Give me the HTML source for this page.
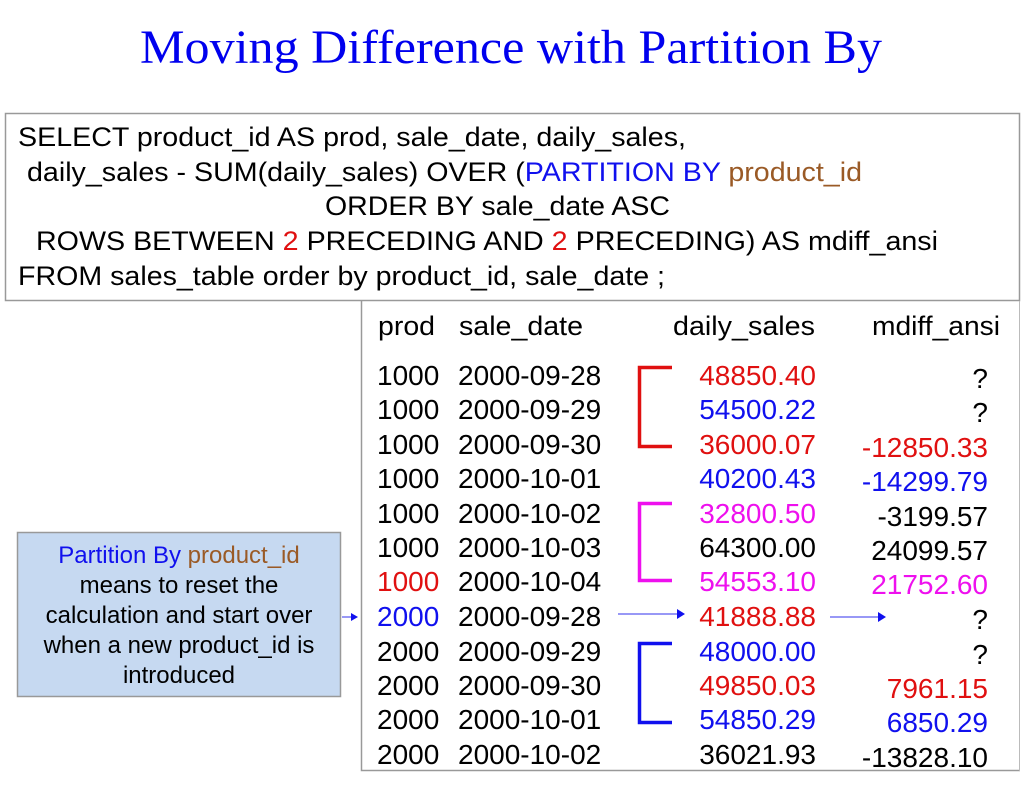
<!DOCTYPE html>
<html><head><meta charset="utf-8"><style>
html,body{margin:0;padding:0;background:#fff;}
svg{display:block;}
text{font-family:"Liberation Sans",Arial,sans-serif;}
</style></head><body>
<svg width="1024" height="790" viewBox="0 0 1024 790" xmlns="http://www.w3.org/2000/svg">
<text x="140" y="63" style="font-family:'Liberation Serif',serif" font-size="48" fill="#0000ee" textLength="742" lengthAdjust="spacingAndGlyphs">Moving Difference with Partition By</text>

<rect x="5.5" y="113.5" width="1014" height="187" fill="#fff" stroke="#999" stroke-width="1.5"/>
<g font-size="27" fill="#000">
<text x="18" y="146" textLength="668" lengthAdjust="spacingAndGlyphs">SELECT product_id AS prod, sale_date, daily_sales,</text>
<text x="27" y="181" textLength="835" lengthAdjust="spacingAndGlyphs">daily_sales - SUM(daily_sales) OVER (<tspan fill="#1010ee">PARTITION BY </tspan><tspan fill="#9a5a26">product_id</tspan></text>
<text x="325" y="215" textLength="345" lengthAdjust="spacingAndGlyphs">ORDER BY sale_date ASC</text>
<text x="36" y="250" textLength="902" lengthAdjust="spacingAndGlyphs">ROWS BETWEEN <tspan fill="#e01010">2</tspan> PRECEDING AND <tspan fill="#e01010">2</tspan> PRECEDING) AS mdiff_ansi</text>
<text x="18" y="285" textLength="647" lengthAdjust="spacingAndGlyphs">FROM sales_table order by product_id, sale_date ;</text>
</g>

<path d="M361.5 301 V770.5 H1020" fill="none" stroke="#999" stroke-width="1.5"/>
<line x1="1019.5" y1="301" x2="1019.5" y2="771" stroke="#bbb" stroke-width="1"/>

<g font-size="27" fill="#000">
<text x="378" y="335" textLength="57" lengthAdjust="spacingAndGlyphs">prod</text>
<text x="459" y="335" textLength="124" lengthAdjust="spacingAndGlyphs">sale_date</text>
<text x="673" y="335" textLength="142" lengthAdjust="spacingAndGlyphs">daily_sales</text>
<text x="872" y="335" textLength="128" lengthAdjust="spacingAndGlyphs">mdiff_ansi</text>
</g>

<g font-size="28">
<g fill="#000">
<text x="377" y="385">1000</text><text x="458" y="385">2000-09-28</text>
<text x="377" y="419">1000</text><text x="458" y="419">2000-09-29</text>
<text x="377" y="454">1000</text><text x="458" y="454">2000-09-30</text>
<text x="377" y="488">1000</text><text x="458" y="488">2000-10-01</text>
<text x="377" y="523">1000</text><text x="458" y="523">2000-10-02</text>
<text x="377" y="557">1000</text><text x="458" y="557">2000-10-03</text>
<text x="377" y="591" fill="#e01010">1000</text><text x="458" y="591">2000-10-04</text>
<text x="377" y="626" fill="#1010ee">2000</text><text x="458" y="626">2000-09-28</text>
<text x="377" y="661">2000</text><text x="458" y="661">2000-09-29</text>
<text x="377" y="695">2000</text><text x="458" y="695">2000-09-30</text>
<text x="377" y="729">2000</text><text x="458" y="729">2000-10-01</text>
<text x="377" y="764">2000</text><text x="458" y="764">2000-10-02</text>
</g>
<g text-anchor="end">
<text x="816" y="385" fill="#e01010">48850.40</text>
<text x="816" y="419" fill="#1010ee">54500.22</text>
<text x="816" y="454" fill="#e01010">36000.07</text>
<text x="816" y="488" fill="#1010ee">40200.43</text>
<text x="816" y="523" fill="#ee10ee">32800.50</text>
<text x="816" y="557" fill="#000">64300.00</text>
<text x="816" y="591" fill="#ee10ee">54553.10</text>
<text x="816" y="626" fill="#e01010">41888.88</text>
<text x="816" y="661" fill="#1010ee">48000.00</text>
<text x="816" y="695" fill="#e01010">49850.03</text>
<text x="816" y="729" fill="#1010ee">54850.29</text>
<text x="816" y="764" fill="#000">36021.93</text>

<text x="988" y="388" fill="#000">?</text>
<text x="988" y="422" fill="#000">?</text>
<text x="988" y="457" fill="#e01010">-12850.33</text>
<text x="988" y="491" fill="#1010ee">-14299.79</text>
<text x="988" y="526" fill="#000">-3199.57</text>
<text x="988" y="560" fill="#000">24099.57</text>
<text x="988" y="594" fill="#ee10ee">21752.60</text>
<text x="988" y="629" fill="#000">?</text>
<text x="988" y="664" fill="#000">?</text>
<text x="988" y="698" fill="#e01010">7961.15</text>
<text x="988" y="732" fill="#1010ee">6850.29</text>
<text x="988" y="767" fill="#000">-13828.10</text>
</g>
</g>

<path d="M672 367.5 H639.5 V446.5 H672" fill="none" stroke="#e01010" stroke-width="3.5"/>
<path d="M672 503.5 H639.5 V580.5 H672" fill="none" stroke="#ee10ee" stroke-width="3.5"/>
<path d="M672 643.5 H639.5 V722.5 H672" fill="none" stroke="#1010ee" stroke-width="3.5"/>

<g stroke="#3030ee" stroke-width="1" fill="#1010ee">
<line x1="618" y1="614" x2="678" y2="614"/><path d="M677 609 L685 614 L677 619 Z" stroke="none"/>
<line x1="830" y1="617" x2="880" y2="617"/><path d="M878 612 L886 617 L878 622 Z" stroke="none"/>
<line x1="342" y1="617" x2="352" y2="617"/><path d="M351 613 L358 617 L351 621 Z" stroke="none"/>
</g>

<rect x="17.5" y="532.5" width="323" height="164" fill="#c6d9f1" stroke="#999" stroke-width="1.5"/>
<g font-size="24" text-anchor="middle" fill="#000">
<text x="179" y="563"><tspan fill="#1010ee">Partition By </tspan><tspan fill="#9a5a26">product_id</tspan></text>
<text x="179" y="593">means to reset the</text>
<text x="179" y="623">calculation and start over</text>
<text x="179" y="653">when a new product_id is</text>
<text x="179" y="683">introduced</text>
</g>
</svg>
</body></html>
